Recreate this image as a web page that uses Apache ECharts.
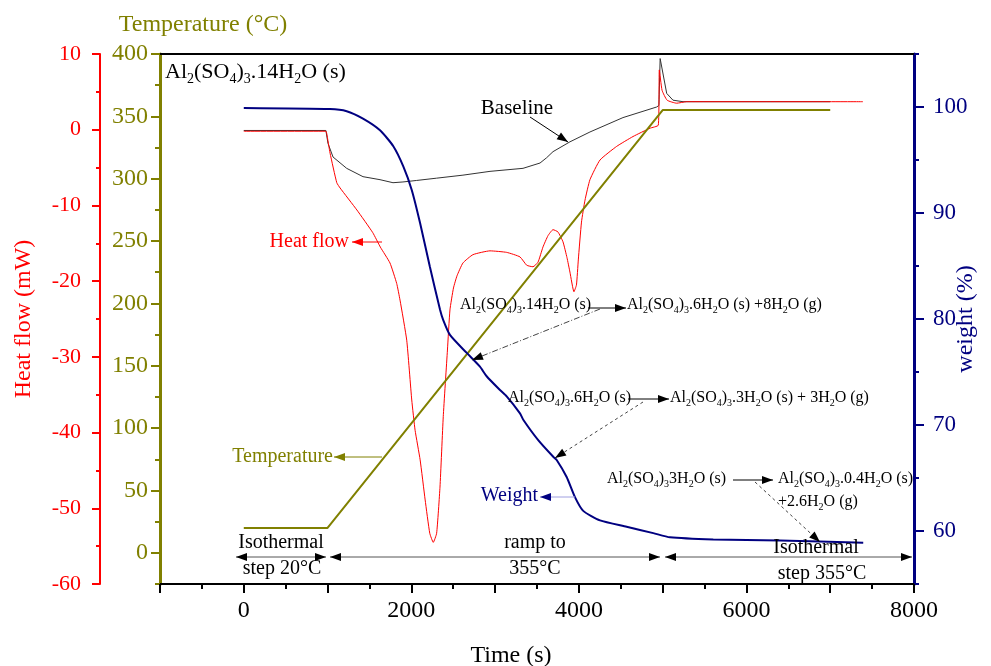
<!DOCTYPE html>
<html><head><meta charset="utf-8">
<script src="https://cdn.jsdelivr.net/npm/echarts@6/dist/echarts.min.js"></script>
<style>html,body{margin:0;padding:0;background:#fff}#c{width:991px;height:666px}</style>
</head><body><div id="c"></div>
<script>
// ---------- DATA ----------
const hfTime = [0, 980, 990, 1030, 1110, 1150, 1350, 1540, 1630, 1745, 1825, 1865, 1945, 2005, 2045, 2105, 2165, 2220, 2262, 2302, 2342, 2381, 2431, 2461, 2503, 2545, 2616, 2736, 2939, 3138, 3297, 3377, 3452, 3512, 3571, 3631, 3691, 3750, 3810, 3858, 3893, 3941, 3971, 3993, 4031, 4073, 4132, 4252, 4451, 4646, 4849, 4948, 4960, 4993, 5053, 5167, 5286, 6040, 7390];
const hfValue = [-0.2, -0.2, -0.5, -3.1, -7.0, -7.7, -10.6, -13.6, -15.5, -17.6, -20.3, -22.5, -27.8, -35.7, -39.7, -43.6, -48.9, -53.3, -54.5, -53.3, -47.2, -37.9, -29.1, -23.8, -20.9, -19.3, -17.6, -16.5, -16.0, -16.2, -16.8, -17.9, -18.1, -17.5, -15.5, -14.0, -13.2, -13.5, -14.8, -16.9, -18.8, -21.4, -20.5, -17.2, -12.2, -9.3, -6.6, -4.0, -2.2, -0.9, 0.2, 0.6, 7.9, 5.2, 3.9, 3.5, 3.7, 3.7, 3.7];

const blTime = [0, 980, 1005, 1065, 1228, 1423, 1626, 1781, 1900, 2064, 2302, 2616, 2939, 3333, 3536, 3615, 3691, 3893, 4132, 4526, 4928, 4955, 4970, 5048, 5123, 5243, 7000];
const blValue = [-0.1, -0.1, -1.8, -3.6, -5.1, -6.2, -6.6, -7.0, -6.9, -6.7, -6.4, -6.0, -5.5, -5.1, -4.4, -3.7, -2.9, -1.6, -0.3, 1.6, 3.0, 3.2, 9.4, 4.8, 3.9, 3.7, 3.7];

const tempTime = [0, 1000, 5000, 7000];
const tempValue = [20, 20, 355, 355];

const wTime = [0, 1029, 1228, 1423, 1626, 1785, 1904, 2004, 2103, 2222, 2342, 2381, 2461, 2661, 2819, 2899, 3058, 3138, 3297, 3336, 3512, 3694, 3735, 3854, 3953, 4052, 4252, 4570, 4888, 5087, 5604, 6400, 7394];
const wValue = [99.9, 99.8, 99.6, 98.9, 97.8, 96.3, 94.4, 92.2, 89.1, 84.9, 80.9, 79.9, 78.5, 76.8, 75.5, 74.6, 73.3, 72.7, 71.1, 70.5, 68.6, 67.0, 66.7, 65.1, 63.2, 61.9, 61.0, 60.4, 59.8, 59.4, 59.2, 59.1, 58.9];

const tempTickLabels = [0, 50, 100, 150, 200, 250, 300, 350, 400];
const weightTickLabels = [60, 70, 80, 90, 100];
const timeTickLabels = [0, 2000, 4000, 6000, 8000];

// ---------- STYLE ----------
const FONT = 'Liberation Serif';
const RED = '#ff0000', OLIVE = '#808000', NAVY = '#000080';

const zip = (a, b) => a.map((v, i) => [v, b[i]]);

function chem(x, y, str, size, color, align) {
  return {
    type: 'text', x: x, y: y, z: 100,
    style: {
      text: str, fontSize: size, fontFamily: FONT, fill: color || '#000',
      align: align || 'left', verticalAlign: 'middle', lineHeight: Math.round(size * 1.3),
      rich: { s: { fontSize: Math.round(size * 0.65), fontFamily: FONT, fill: color || '#000', verticalAlign: 'bottom', lineHeight: Math.round(size * 0.5) } }
    }
  };
}
function head(x1, y1, x2, y2, color) {
  const dx = x2 - x1, dy = y2 - y1, L = Math.hypot(dx, dy), ux = dx / L, uy = dy / L;
  const hl = 11, hw = 4;
  const bx = x2 - ux * hl, by = y2 - uy * hl;
  return { type: 'polygon', z: 101, shape: { points: [[x2, y2], [bx - uy * hw, by + ux * hw], [bx + uy * hw, by - ux * hw]] }, style: { fill: color } };
}
function arrow(x1, y1, x2, y2, lineColor, headColor, dash, both) {
  const out = [{ type: 'line', z: 100, shape: { x1, y1, x2, y2 }, style: { stroke: lineColor, lineWidth: 1, lineDash: dash || null } }];
  out.push(head(x1, y1, x2, y2, headColor));
  if (both) out.push(head(x2, y2, x1, y1, headColor));
  return out;
}
function label(x, y, text, size, color, align) {
  return { type: 'text', x: x, y: y, z: 100, style: { text: text, fontSize: size, fontFamily: FONT, fill: color || '#000', align: align || 'center', verticalAlign: 'middle' } };
}

const graphics = [].concat(
  [chem(165, 72, 'Al{s|2}(SO{s|4}){s|3}.14H{s|2}O (s)', 22)],
  [label(517, 108, 'Baseline', 21, '#000', 'center')],
  arrow(530, 117, 568, 142, '#000', '#000'),
  [label(349, 242, 'Heat flow', 20, RED, 'right')],
  arrow(382, 242, 352, 242, RED, RED),
  [label(333, 457, 'Temperature', 20, OLIVE, 'right')],
  arrow(382, 457, 334, 457, OLIVE, OLIVE),
  [label(538, 496, 'Weight', 20, NAVY, 'right')],
  arrow(575, 497, 540, 497, '#a0a0e0', NAVY),
  [chem(460, 305, 'Al{s|2}(SO{s|4}){s|3}.14H{s|2}O (s)', 16), chem(627, 305, 'Al{s|2}(SO{s|4}){s|3}.6H{s|2}O (s) +8H{s|2}O (g)', 16)],
  arrow(588, 308, 626, 308, '#000', '#000'),
  arrow(600, 309, 472, 360, '#444', '#000', [6, 2, 1, 2]),
  [chem(508, 398, 'Al{s|2}(SO{s|4}){s|3}.6H{s|2}O (s)', 16), chem(670, 398, 'Al{s|2}(SO{s|4}){s|3}.3H{s|2}O (s) + 3H{s|2}O (g)', 16)],
  arrow(628, 399, 669, 399, '#000', '#000'),
  arrow(643, 402, 555, 458, '#444', '#000', [3, 3]),
  [chem(607, 479, 'Al{s|2}(SO{s|4}){s|3}3H{s|2}O (s)', 16), chem(778, 479, 'Al{s|2}(SO{s|4}){s|3}.0.4H{s|2}O (s)', 16), chem(778, 502, '+2.6H{s|2}O (g)', 16)],
  arrow(733, 480, 773, 480, '#000', '#000'),
  arrow(755, 482, 820, 542, '#444', '#000', [3, 3]),
  arrow(236, 557, 326, 557, '#555', '#000', null, true),
  arrow(330, 557, 660, 557, '#555', '#000', null, true),
  arrow(665, 557, 912, 557, '#555', '#000', null, true),
  [
    label(281, 543, 'Isothermal', 20), label(282, 569, 'step 20°C', 20),
    label(535, 543, 'ramp to', 20), label(535, 569, '355°C', 20),
    label(816, 548, 'Isothermal', 20), label(822, 574, 'step 355°C', 20)
  ]
);

const noSplit = { show: false };
const option = {
  animation: false,
  backgroundColor: '#fff',
  grid: { left: 160, right: 77, top: 54, bottom: 82, containLabel: false, outerBoundsMode: 'none' },
  xAxis: [
    {
      type: 'value', min: -1000, max: 8000, interval: 1000, position: 'bottom',
      name: 'Time (s)', nameLocation: 'middle', nameGap: 60, nameMoveOverlap: false,
      nameTextStyle: { fontSize: 24, fontFamily: FONT, color: '#000', padding: [0, 52, 0, 0] },
      axisLine: { show: true, onZero: false, lineStyle: { color: '#000', width: 2 } },
      axisTick: { show: true, length: 9, lineStyle: { color: '#000', width: 2 } },
      minorTick: { show: true, splitNumber: 2, length: 5, lineStyle: { color: '#000', width: 2 } },
      axisLabel: { fontSize: 24, fontFamily: FONT, color: '#000', margin: 15, formatter: v => timeTickLabels.includes(v) ? String(v) : '' },
      splitLine: noSplit, minorSplitLine: noSplit
    },
    {
      type: 'value', min: -1000, max: 8000, position: 'top',
      axisLine: { show: true, onZero: false, lineStyle: { color: '#000', width: 2 } },
      axisTick: { show: false }, axisLabel: { show: false }, splitLine: noSplit
    }
  ],
  yAxis: [
    {
      type: 'value', position: 'left', offset: 60, min: -60, max: 10, interval: 10,
      name: 'Heat flow (mW)', nameLocation: 'middle', nameGap: 64, nameRotate: 90, nameMoveOverlap: false,
      nameTextStyle: { color: RED, fontSize: 24, fontFamily: FONT },
      axisLine: { show: true, onZero: false, lineStyle: { color: RED, width: 2 } },
      axisTick: { show: true, length: 8, lineStyle: { color: RED, width: 2 } },
      minorTick: { show: true, splitNumber: 2, length: 4, lineStyle: { color: RED, width: 2 } },
      axisLabel: { color: RED, fontSize: 22, fontFamily: FONT, margin: 19 },
      splitLine: noSplit, minorSplitLine: noSplit
    },
    {
      type: 'value', position: 'left', offset: 0, min: -25, max: 400, interval: 25,
      name: 'Temperature (°C)', nameLocation: 'end', nameGap: 17,
      nameTextStyle: { color: OLIVE, fontSize: 24, fontFamily: FONT, padding: [0, 0, 0, 86] },
      axisLine: { show: true, onZero: false, lineStyle: { color: OLIVE, width: 3 } },
      axisTick: { show: true, length: 9, customValues: tempTickLabels, lineStyle: { color: OLIVE, width: 2 } },
      axisLabel: { color: OLIVE, fontSize: 24, fontFamily: FONT, margin: 12, padding: [10, 0, 0, 0], customValues: tempTickLabels },
      splitLine: noSplit
    },
    {
      type: 'value', position: 'left', offset: 0, min: -25, max: 400, interval: 25,
      axisLine: { show: false, onZero: false },
      axisTick: { show: true, length: 5, lineStyle: { color: OLIVE, width: 2 } },
      axisLabel: { show: false }, splitLine: noSplit
    },
    {
      type: 'value', position: 'right', offset: 0, min: 55, max: 105, interval: 5,
      name: 'weight (%)', nameLocation: 'middle', nameGap: 40, nameRotate: 90, nameMoveOverlap: false,
      nameTextStyle: { color: NAVY, fontSize: 24, fontFamily: FONT },
      axisLine: { show: true, onZero: false, lineStyle: { color: NAVY, width: 3 } },
      axisTick: { show: true, length: 10, customValues: weightTickLabels, lineStyle: { color: NAVY, width: 2 } },
      axisLabel: { color: NAVY, fontSize: 23, fontFamily: FONT, margin: 19, customValues: weightTickLabels },
      splitLine: noSplit
    },
    {
      type: 'value', position: 'right', offset: 0, min: 55, max: 105, interval: 5,
      axisLine: { show: false, onZero: false },
      axisTick: { show: true, length: 5, lineStyle: { color: NAVY, width: 2 } },
      axisLabel: { show: false }, splitLine: noSplit
    }
  ],
  series: [
    { name: 'Baseline', type: 'line', xAxisIndex: 0, yAxisIndex: 0, data: zip(blTime, blValue), showSymbol: false, lineStyle: { color: '#333', width: 1 }, z: 3 },
    { name: 'Heat flow', type: 'line', xAxisIndex: 0, yAxisIndex: 0, data: zip(hfTime, hfValue), showSymbol: false, smooth: 0.15, lineStyle: { color: RED, width: 1 }, z: 4 },
    { name: 'Temperature', type: 'line', xAxisIndex: 0, yAxisIndex: 1, data: zip(tempTime, tempValue), showSymbol: false, lineStyle: { color: OLIVE, width: 2 }, z: 5 },
    { name: 'Weight', type: 'line', xAxisIndex: 0, yAxisIndex: 3, data: zip(wTime, wValue), showSymbol: false, smooth: 0.2, lineStyle: { color: NAVY, width: 2 }, z: 6 }
  ],
  graphic: graphics
};
const chart = echarts.init(document.getElementById('c'), null, { renderer: 'canvas' });
chart.setOption(option);
</script></body></html>
